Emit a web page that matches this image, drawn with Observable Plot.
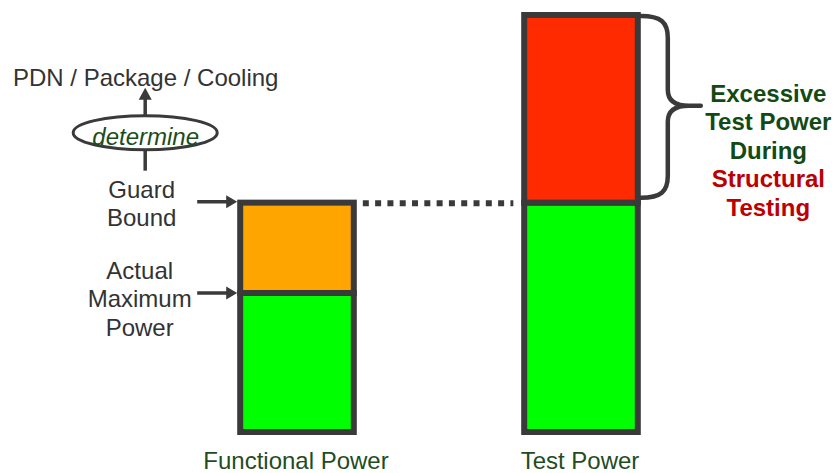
<!DOCTYPE html>
<html><head><meta charset="utf-8">
<script src="https://cdn.jsdelivr.net/npm/d3@7"></script>
<script src="https://cdn.jsdelivr.net/npm/@observablehq/plot@0.6"></script>
<style>
html,body{margin:0;padding:0;background:#fff;}
#chart svg{display:block;}
</style></head><body><div id="chart"></div>
<script>
// ---- data ----
const categories = ["Functional Power", "Test Power"];
const segmentKinds = ["Within Budget", "Guard Band", "Excessive Test Power"];
// power levels (relative units)
const actualMaximumPower = 1.0;
const guardBound = 1.65;
const peakTestPower = 3.0;
// segments of each stacked bar: [lower, upper] and their kinds
const functionalSegments = [[0, actualMaximumPower], [actualMaximumPower, guardBound]];
const functionalKinds = ["Within Budget", "Guard Band"];
const testSegments = [[0, guardBound], [guardBound, peakTestPower]];
const testKinds = ["Within Budget", "Excessive Test Power"];
const topLabel = "PDN / Package / Cooling";
const verbLabel = "determine";
const guardLabel = "Guard\nBound";
const actualLabel = "Actual\nMaximum\nPower";
const excessLabelGreen = "Excessive\nTest Power\nDuring";
const excessLabelRed = "Structural\nTesting";

// ---- table built from the arrays ----
const segs = [];
functionalSegments.forEach(([lo, hi], i) => segs.push({cat: categories[0], pos: 1, lo, hi, kind: functionalKinds[i]}));
testSegments.forEach(([lo, hi], i) => segs.push({cat: categories[1], pos: 2, lo, hi, kind: testKinds[i]}));

const ink = "#3a3a3a";
const hw = 0.2;       // half bar width in x units
const font = "Liberation Sans, Arial, Helvetica, sans-serif";

function geometry(index, scales) {
  const {x, y} = scales;
  const g = d3.create("svg:g");
  const left = x(1 - hw) - 3;           // outer edge of functional bar
  const col = x(1 - hw) - 95;           // annotation column
  const yG = y(guardBound), yA = y(actualMaximumPower);
  const cy = yG - 70, ry = 17, rx = 72;
  // ellipse
  g.append("ellipse").attr("cx", col).attr("cy", cy).attr("rx", rx).attr("ry", ry)
    .attr("fill", "none").attr("stroke", ink).attr("stroke-width", 3);
  // up arrow
  g.append("line").attr("x1", col).attr("x2", col).attr("y1", cy - ry).attr("y2", yG - 105)
    .attr("stroke", ink).attr("stroke-width", 3.5);
  g.append("path").attr("d", `M${col},${yG - 115}L${col - 6.5},${yG - 103}L${col + 6.5},${yG - 103}Z`).attr("fill", ink);
  // down line
  g.append("line").attr("x1", col).attr("x2", col).attr("y1", cy + ry).attr("y2", yG - 32)
    .attr("stroke", ink).attr("stroke-width", 3.5);
  // horizontal arrows
  for (const yy of [yG - 1, yA]) {
    g.append("line").attr("x1", left - 40).attr("x2", left - 8).attr("y1", yy).attr("y2", yy)
      .attr("stroke", ink).attr("stroke-width", 3.5);
    g.append("path").attr("d", `M${left},${yy}L${left - 11},${yy - 6.5}L${left - 11},${yy + 6.5}Z`).attr("fill", ink);
  }
  // brace
  const xr = x(2 + hw) + 3, yT = y(peakTestPower) + 1, yB = y(guardBound) - 5, ym = (yT + yB) / 2 - 1;
  const b = 27, p = 60;
  const d = `M${xr},${yT}C${xr + 20},${yT} ${xr + b},${yT + 6} ${xr + b},${yT + 22}` +
    `L${xr + b},${ym - 16}C${xr + b},${ym - 4} ${xr + 36},${ym} ${xr + 48},${ym}L${xr + p},${ym}` +
    `L${xr + 48},${ym}C${xr + 36},${ym} ${xr + b},${ym + 4} ${xr + b},${ym + 16}` +
    `L${xr + b},${yB - 22}C${xr + b},${yB - 6} ${xr + 20},${yB} ${xr},${yB}`;
  g.append("path").attr("d", d).attr("fill", "none").attr("stroke", ink)
    .attr("stroke-width", 4.5).attr("stroke-linejoin", "round").attr("stroke-linecap", "round");
  return g.node();
}

const chart = Plot.plot({
  width: 835,
  height: 473,
  margin: 0,
  style: {fontFamily: font, background: "#fff", overflow: "visible"},
  x: {type: "linear", domain: [0, 3], range: [13, 865], axis: null},
  y: {domain: [0, 3], range: [432, 15], axis: null},
  color: {domain: segmentKinds, range: ["#00ff00", "#ffa500", "#ff2a00"]},
  marks: [
    Plot.rect(segs, {
      x1: d => d.pos - hw, x2: d => d.pos + hw, y1: "lo", y2: "hi",
      fill: "kind", stroke: ink, strokeWidth: 6, strokeLinejoin: "miter"
    }),
    Plot.link([guardBound], {
      x1: 1 + hw + 0.03, x2: 2 - hw - 0.04, y1: d => d, y2: d => d,
      stroke: ink, strokeWidth: 6, strokeDasharray: "6,6.3", strokeLinecap: "butt"
    }),
    geometry,
    Plot.text([topLabel], {x: 1 - hw, y: guardBound, dx: -95, dy: -117.6, text: d => d,
      lineAnchor: "bottom", fontSize: 24, fill: "#333"}),
    Plot.text([verbLabel], {x: 1 - hw, y: guardBound, dx: -95, dy: -58.6, text: d => d,
      lineAnchor: "bottom", fontSize: 24, fontStyle: "italic", fill: "#1b4d1b"}),
    Plot.text([guardLabel], {x: 1 - hw, y: guardBound, dx: -99, dy: 22.4, text: d => d,
      lineAnchor: "bottom", lineHeight: 1.1667, fontSize: 24, fill: "#333"}),
    Plot.text([actualLabel], {x: 1 - hw, y: actualMaximumPower, dx: -101, dy: 42, text: d => d,
      lineAnchor: "bottom", lineHeight: 1.1875, fontSize: 24, fill: "#333"}),
    Plot.text([excessLabelGreen], {x: 2 + hw, y: peakTestPower, dx: 130, dy: 143, text: d => d,
      lineAnchor: "bottom", lineHeight: 1.1875, fontSize: 24, fontWeight: "bold", fill: "#124a12"}),
    Plot.text([excessLabelRed], {x: 2 + hw, y: peakTestPower, dx: 130, dy: 200, text: d => d,
      lineAnchor: "bottom", lineHeight: 1.1875, fontSize: 24, fontWeight: "bold", fill: "#bb0000"}),
    Plot.text(categories, {x: (d, i) => i + 1, y: 0, dx: -1.5, dy: 36, text: d => d,
      lineAnchor: "bottom", fontSize: 24, fill: "#1f4d1f"})
  ]
});
document.getElementById("chart").append(chart);
</script></body></html>
